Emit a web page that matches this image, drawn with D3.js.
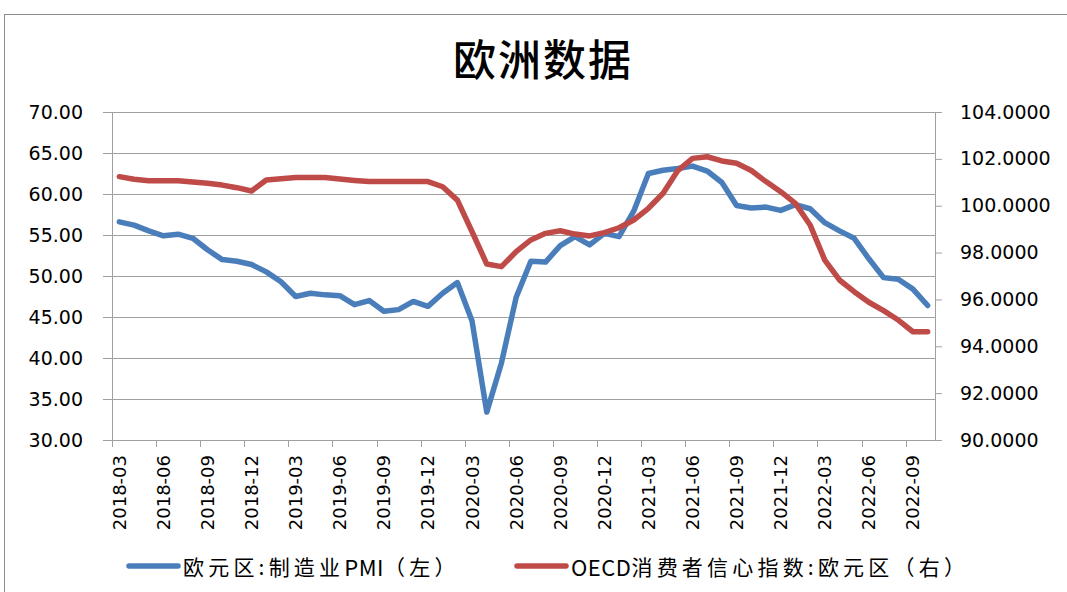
<!DOCTYPE html>
<html>
<head>
<meta charset="utf-8">
<script src="https://cdn.jsdelivr.net/npm/d3@7"></script>
<style>
    body { margin: 0; background: #fff; }
    svg { display: block; }
</style>
</head>
<body>
<script>
// keep everything out of global scope
(function(){
    // months shown on the category axis (2018-03 .. 2022-10)
    var months = ["2018-03","2018-04","2018-05","2018-06","2018-07","2018-08","2018-09","2018-10","2018-11","2018-12",
                  "2019-01","2019-02","2019-03","2019-04","2019-05","2019-06","2019-07","2019-08","2019-09","2019-10","2019-11","2019-12",
                  "2020-01","2020-02","2020-03","2020-04","2020-05","2020-06","2020-07","2020-08","2020-09","2020-10","2020-11","2020-12",
                  "2021-01","2021-02","2021-03","2021-04","2021-05","2021-06","2021-07","2021-08","2021-09","2021-10","2021-11","2021-12",
                  "2022-01","2022-02","2022-03","2022-04","2022-05","2022-06","2022-07","2022-08","2022-09","2022-10"];

    // 欧元区:制造业PMI (left axis)
    var pmi = [56.6,56.2,55.5,54.9,55.1,54.6,53.2,52.0,51.8,51.4,
               50.5,49.3,47.5,47.9,47.7,47.6,46.5,47.0,45.7,45.9,46.9,46.3,
               47.9,49.2,44.5,33.4,39.4,47.4,51.8,51.7,53.7,54.8,53.8,55.2,
               54.8,57.9,62.5,62.9,63.1,63.4,62.8,61.4,58.6,58.3,58.4,58.0,
               58.7,58.2,56.5,55.5,54.6,52.1,49.8,49.6,48.4,46.4];

    // OECD消费者信心指数:欧元区 (right axis)
    var oecd = [101.24,101.13,101.07,101.07,101.07,101.01,100.96,100.88,100.77,100.63,
                101.10,101.15,101.20,101.20,101.20,101.14,101.08,101.03,101.03,101.03,101.03,101.03,
                100.81,100.24,98.89,97.51,97.40,98.04,98.54,98.82,98.93,98.79,98.71,98.85,
                99.06,99.39,99.89,100.53,101.50,102.02,102.09,101.91,101.81,101.50,101.03,100.60,
                100.10,99.18,97.68,96.83,96.33,95.88,95.52,95.12,94.62,94.62];

    var leftTicks = [30,35,40,45,50,55,60,65,70];
    var rightTicks = [90,92,94,96,98,100,102,104];
    var seriesNames = ["欧元区:制造业PMI（左）", "OECD消费者信心指数:欧元区（右）"];
    var seriesColors = ["#4A7EBB", "#BE4B48"];

    var width = 1067,
        height = 592;

    var plot = {left: 112, right: 935, top: 112, bottom: 440};

    var svg = d3.select("body")
        .append("svg")
        .attr("width", width)
        .attr("height", height);

    // chart area border (runs off the right / bottom edge like the original)
    svg.append("rect")
        .attr("x", 4.5)
        .attr("y", 14.5)
        .attr("width", 1200)
        .attr("height", 800)
        .attr("fill", "none")
        .attr("stroke", "#8c8c8c")
        .attr("stroke-width", 1);

    // title
    svg.append("text")
        .attr("x", 543)
        .attr("y", 57)
        .attr("text-anchor", "middle")
        .attr("dominant-baseline", "central")
        .style("font-family", "'Noto Sans CJK SC', sans-serif")
        .style("font-size", "43px")
        .style("font-weight", "500")
        .style("letter-spacing", "2px")
        .text("欧洲数据");

    // scales
    var x = d3.scaleBand()
        .domain(months)
        .range([plot.left, plot.right]);

    var yLeft = d3.scaleLinear()
        .domain([30, 70])
        .range([plot.bottom, plot.top]);

    var yRight = d3.scaleLinear()
        .domain([90, 104])
        .range([plot.bottom, plot.top]);

    // horizontal gridlines from left axis ticks
    svg.append("g")
        .selectAll("line")
        .data(leftTicks)
        .enter()
        .append("line")
        .attr("x1", plot.left)
        .attr("x2", plot.right)
        .attr("y1", function(d){ return Math.round(yLeft(d)) + 0.5; })
        .attr("y2", function(d){ return Math.round(yLeft(d)) + 0.5; })
        .attr("stroke", "#a0a0a0")
        .attr("stroke-width", 1);

    // left axis
    var leftAxis = svg.append("g")
        .attr("transform", "translate(" + plot.left + ",0)")
        .call(d3.axisLeft(yLeft)
            .tickValues(leftTicks)
            .tickFormat(d3.format(".2f"))
            .tickSize(9)
            .tickPadding(20));

    // right axis
    var rightAxis = svg.append("g")
        .attr("transform", "translate(" + plot.right + ",0)")
        .call(d3.axisRight(yRight)
            .tickValues(rightTicks)
            .tickFormat(d3.format(".4f"))
            .tickSize(7)
            .tickPadding(18));

    [leftAxis, rightAxis].forEach(function(ax){
        ax.select(".domain").attr("stroke", "#a0a0a0");
        ax.selectAll(".tick line").attr("stroke", "#a0a0a0");
        ax.selectAll(".tick text")
            .attr("fill", "#000")
            .style("font-family", "'DejaVu Sans', sans-serif")
            .style("font-size", "19px");
    });

    // bottom axis line
    svg.append("line")
        .attr("x1", plot.left)
        .attr("x2", plot.right)
        .attr("y1", plot.bottom + 0.5)
        .attr("y2", plot.bottom + 0.5)
        .attr("stroke", "#a0a0a0");

    // every third month gets a tick (at band edge) and a label (at band centre)
    var shown = months.filter(function(d, i){ return i % 3 === 0; });

    svg.append("g")
        .selectAll("line")
        .data(shown)
        .enter()
        .append("line")
        .attr("x1", function(d){ return Math.round(x(d)) + 0.5; })
        .attr("x2", function(d){ return Math.round(x(d)) + 0.5; })
        .attr("y1", plot.bottom)
        .attr("y2", plot.bottom + 7)
        .attr("stroke", "#a0a0a0");

    svg.append("g")
        .selectAll("text")
        .data(shown)
        .enter()
        .append("text")
        .attr("transform", function(d){
            return "translate(" + (x(d) + x.bandwidth() / 2) + "," + (plot.bottom + 15) + ") rotate(-90)";
        })
        .attr("text-anchor", "end")
        .attr("dy", "0.36em")
        .style("font-family", "'DejaVu Sans', sans-serif")
        .style("font-size", "18px")
        .text(function(d){ return d; });

    // lines
    var pmiLine = d3.line()
        .x(function(d, i){ return x(months[i]) + x.bandwidth() / 2; })
        .y(function(d){ return yLeft(d); });

    var oecdLine = d3.line()
        .x(function(d, i){ return x(months[i]) + x.bandwidth() / 2; })
        .y(function(d){ return yRight(d); });

    svg.append("path")
        .datum(pmi)
        .attr("d", pmiLine)
        .attr("fill", "none")
        .attr("stroke", seriesColors[0])
        .attr("stroke-width", 5.5)
        .attr("stroke-linejoin", "round")
        .attr("stroke-linecap", "round");

    svg.append("path")
        .datum(oecd)
        .attr("d", oecdLine)
        .attr("fill", "none")
        .attr("stroke", seriesColors[1])
        .attr("stroke-width", 5.5)
        .attr("stroke-linejoin", "round")
        .attr("stroke-linecap", "round");

    // legend
    var legendX = [127, 515];
    var legend = svg.append("g")
        .selectAll("g")
        .data(seriesNames)
        .enter()
        .append("g")
        .attr("transform", function(d, i){ return "translate(" + legendX[i] + ",566)"; });

    legend.append("line")
        .attr("x1", 2)
        .attr("x2", 51)
        .attr("stroke", function(d, i){ return seriesColors[i]; })
        .attr("stroke-width", 5.5)
        .attr("stroke-linecap", "round");

    // CJK runs are spaced out, latin runs (PMI, OECD) stay tight
    var legendText = legend.append("text")
        .attr("x", 56)
        .attr("dominant-baseline", "central")
        .style("font-family", "'Noto Sans CJK SC', sans-serif")
        .style("font-size", "21px");

    legendText.selectAll("tspan")
        .data(function(d){ return d.match(/[A-Za-z]+|[^A-Za-z]+/g); })
        .enter()
        .append("tspan")
        .style("letter-spacing", function(s){ return /[A-Za-z]/.test(s) ? "0.5px" : "4.2px"; })
        .style("font-size", function(s){ return /[A-Za-z]/.test(s) ? "22px" : "21px"; })
        .text(function(s){ return s; });
})();
</script>
</body>
</html>
